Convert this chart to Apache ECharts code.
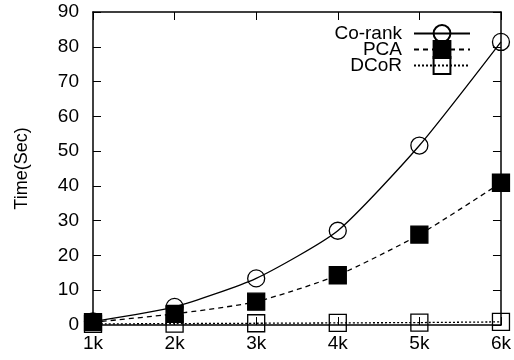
<!DOCTYPE html>
<html>
<head>
<meta charset="utf-8">
<script src="https://cdn.jsdelivr.net/npm/echarts@6/dist/echarts.min.js"></script>
<style>
  html, body { margin: 0; padding: 0; background: #fff; }
  #chart { width: 514px; height: 360px; }
</style>
</head>
<body>
<div id="chart"></div>
<script>
var categories = ["1k", "2k", "3k", "4k", "5k", "6k"];
var coRank = [1.0, 5.2, 13.4, 27.1, 51.6, 81.4];
var pca = [0.8, 3.2, 6.7, 14.3, 26.0, 40.9];
var dcor = [0.3, 0.4, 0.5, 0.6, 0.7, 0.9];
var yTicks = { min: 0, max: 90, interval: 10 };

var chart = echarts.init(document.getElementById("chart"));
var font = "'Liberation Sans', Arial, Helvetica, sans-serif";

function lineSeries(name, data, symbol, fill, lineType) {
  return {
    name: name,
    type: "line",
    data: data,
    smooth: 0.2,
    symbol: symbol,
    symbolSize: 17,
    showAllSymbol: true,
    z: 3,
    lineStyle: { color: "#000", width: 1.3, type: lineType },
    itemStyle: { color: fill, borderColor: "#000", borderWidth: 1.3 },
  };
}

var tick = { show: true, inside: true, length: 8, lineStyle: { color: "#000", width: 1 } };
var axisLine = { show: true, onZero: false, lineStyle: { color: "#000", width: 1.5 } };

var option = {
  backgroundColor: "#fff",
  animation: false,
  grid: { left: 93, right: 13, top: 12, bottom: 35 },
  legend: {
    right: 38,
    top: 19,
    orient: "vertical",
    align: "right",
    itemWidth: 56,
    itemHeight: 21,
    itemGap: -3,
    textStyle: { fontFamily: font, fontSize: 19, color: "#000", padding: [0, 7, 0, 0] },
    data: ["Co-rank", "PCA", "DCoR"],
  },
  xAxis: [
    {
      type: "category",
      data: categories,
      boundaryGap: false,
      axisLine: axisLine,
      axisTick: tick,
      axisLabel: { fontFamily: font, fontSize: 19, color: "#000", margin: 9 },
      splitLine: { show: false },
    },
    {
      type: "category",
      data: categories,
      boundaryGap: false,
      position: "top",
      axisLine: axisLine,
      axisTick: tick,
      axisLabel: { show: false },
      splitLine: { show: false },
    },
  ],
  yAxis: [
    {
      type: "value",
      min: yTicks.min,
      max: yTicks.max,
      interval: yTicks.interval,
      name: "Time(Sec)",
      nameLocation: "middle",
      nameGap: 62,
      nameTextStyle: { fontFamily: font, fontSize: 18, color: "#000" },
      axisLine: axisLine,
      axisTick: tick,
      axisLabel: { fontFamily: font, fontSize: 19, color: "#000", margin: 14 },
      splitLine: { show: false },
    },
    {
      type: "value",
      min: yTicks.min,
      max: yTicks.max,
      interval: yTicks.interval,
      position: "right",
      axisLine: axisLine,
      axisTick: tick,
      axisLabel: { show: false },
      splitLine: { show: false },
    },
  ],
  series: [
    lineSeries("Co-rank", coRank, "circle", "rgba(0,0,0,0)", "solid"),
    lineSeries("PCA", pca, "rect", "#000", [5, 4]),
    lineSeries("DCoR", dcor, "rect", "rgba(0,0,0,0)", [2, 2]),
  ],
};

chart.setOption(option);
</script>
</body>
</html>
